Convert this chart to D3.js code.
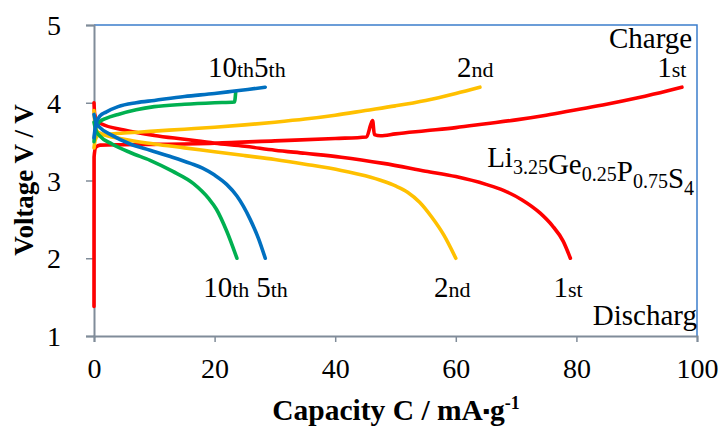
<!DOCTYPE html>
<html>
<head>
<meta charset="utf-8">
<script src="https://cdn.jsdelivr.net/npm/d3@7"></script>
<style>
  html, body { margin: 0; padding: 0; background: #fff; }
  svg { display: block; }
  text { font-family: "Liberation Serif", "Times New Roman", serif; fill: #000; }
</style>
</head>
<body>
<svg id="chart" width="720" height="429"></svg>
<script>
// Charge / discharge profiles of Li3.25Ge0.25P0.75S4, pairs of [capacity mA·g-1, voltage V]
const charge1 = [[0,1.38],[0.01,3.3],[0.3,3.43],[1,3.455],[5,3.46],[10,3.465],[20,3.48],[30,3.51],[40,3.54],[45.2,3.56],[45.9,3.72],[46.2,3.77],[46.5,3.59],[47.5,3.575],[50,3.6],[55,3.64],[60,3.68],[65,3.73],[70,3.78],[75,3.84],[80,3.91],[85,3.98],[90,4.06],[95,4.15],[97.5,4.2]];
const discharge1 = [[0,4.0],[0.1,3.86],[0.5,3.77],[1.2,3.73],[5,3.65],[10,3.58],[15,3.53],[20,3.48],[25,3.44],[30,3.39],[35,3.35],[41,3.3],[48,3.22],[55,3.12],[60,3.05],[65,2.95],[68,2.87],[71,2.75],[74,2.58],[76,2.42],[77.8,2.22],[79,2.0]];
const charge2 = [[0,3.42],[0.2,3.52],[0.7,3.58],[5,3.61],[10,3.635],[15,3.66],[20,3.685],[25,3.715],[30,3.75],[35,3.79],[40,3.84],[45,3.9],[50,3.96],[55,4.03],[60,4.12],[64,4.2]];
const discharge2 = [[0,3.9],[0.2,3.7],[0.7,3.62],[5,3.53],[10,3.47],[15,3.42],[20,3.37],[25,3.32],[30,3.27],[35,3.21],[41,3.13],[45,3.06],[48,2.99],[50,2.93],[52,2.85],[54,2.72],[56,2.53],[58,2.3],[60,2.0]];
const charge5 = [[0,3.55],[0.3,3.72],[1,3.83],[2,3.88],[4,3.95],[7,4.0],[10,4.03],[15,4.08],[20,4.12],[23.3,4.15],[25.5,4.17],[28.4,4.2]];
const discharge5 = [[0,3.85],[0.3,3.75],[1,3.68],[3,3.58],[6,3.47],[9.3,3.39],[13,3.3],[16,3.22],[18,3.16],[20,3.07],[22,2.95],[23.7,2.8],[25.9,2.5],[27.3,2.25],[28.4,2.0]];
const charge10 = [[0,3.5],[0.3,3.68],[1,3.76],[2,3.8],[4,3.85],[7,3.91],[10,3.95],[15,3.98],[20,4.0],[23.3,4.01],[23.5,4.14]];
const discharge10 = [[0,3.75],[0.3,3.65],[1,3.57],[3,3.47],[6,3.36],[9.3,3.26],[13,3.12],[16.5,2.96],[19,2.77],[20.3,2.63],[22,2.35],[23.7,2.0]];

const capTicks = [0, 20, 40, 60, 80, 100];
const voltTicks = [1, 2, 3, 4, 5];

const cycles = [
  { name: "1st",  charge: charge1,  discharge: discharge1,  color: "#ff0000" },
  { name: "2nd",  charge: charge2,  discharge: discharge2,  color: "#ffc000" },
  { name: "10th", charge: charge10, discharge: discharge10, color: "#00b050" },
  { name: "5th",  charge: charge5,  discharge: discharge5,  color: "#0070c0" }
];

const svg = d3.select("#chart");
const plotL = 94, plotR = 697, plotT = 25, plotB = 336;

const x = d3.scaleLinear().domain([0, 100]).range([plotL, plotR]);
const y = d3.scaleLinear().domain([1, 5]).range([plotB, plotT]);

const axisGrey = "#808c99";
const frameBlue = "#3b7dcc";

// plot-area frame: blue on top and right
svg.append("path")
  .attr("d", `M${plotL},${plotT}H${plotR}V${plotB}`)
  .attr("fill", "none").attr("stroke", frameBlue).attr("stroke-width", 1.5);

// y axis
const yAxis = svg.append("g").attr("transform", `translate(${plotL},0)`)
  .call(d3.axisLeft(y).tickValues(voltTicks).tickSize(8).tickPadding(25).tickFormat(d3.format("d")));
// x axis
const xAxis = svg.append("g").attr("transform", `translate(0,${plotB})`)
  .call(d3.axisBottom(x).tickValues(capTicks).tickSize(6).tickPadding(16).tickFormat(d3.format("d")));

[yAxis, xAxis].forEach(g => {
  g.select(".domain").attr("stroke", axisGrey).attr("stroke-width", 2);
  g.selectAll(".tick line").attr("stroke", axisGrey).attr("stroke-width", 1.5);
  g.selectAll(".tick text")
    .attr("font-family", "Liberation Serif, serif")
    .attr("font-size", 28).attr("fill", "#000");
});
yAxis.selectAll(".tick text").attr("dy", "0.34em");
xAxis.selectAll(".tick text").attr("dy", "0.71em");

// curves
const line = d3.line()
  .x(d => x(d[0])).y(d => y(d[1]))
  .curve(d3.curveMonotoneX);

const curves = svg.append("g");
cycles.forEach(c => {
  [c.charge, c.discharge].forEach(data => {
    curves.append("path")
      .attr("d", line(data))
      .attr("fill", "none")
      .attr("stroke", c.color)
      .attr("stroke-width", 3.6)
      .attr("stroke-linejoin", "round")
      .attr("stroke-linecap", "round");
  });
});

// cycle labels: big number + small ordinal suffix on the same baseline
function ordinal(sel, label) {
  const m = label.match(/^(\d+)(\D+)$/);
  sel.append("tspan").attr("font-size", 29).text(m[1]);
  sel.append("tspan").attr("font-size", 22).text(m[2]);
}
function cycleLabel(px, py, labels) {
  const t = svg.append("text").attr("x", px).attr("y", py);
  labels.forEach(l => ordinal(t, l));
}

// charge side
cycleLabel(x(18.9), y(4.33), ["10th", "5th"]);
cycleLabel(x(60.2), y(4.33), ["2nd"]);
cycleLabel(x(93.4), y(4.33), ["1st"]);
svg.append("text").attr("x", x(99.2)).attr("y", y(4.71))
  .attr("text-anchor", "end").attr("font-size", 29).text("Charge");

// discharge side
cycleLabel(x(18.1), y(1.5), ["10th"]);
cycleLabel(x(26.9), y(1.5), ["5th"]);
cycleLabel(x(56.4), y(1.5), ["2nd"]);
cycleLabel(x(76.2), y(1.5), ["1st"]);
svg.append("text").attr("x", plotR).attr("y", y(1.14))
  .attr("text-anchor", "end").attr("font-size", 29).text("Discharg");

// composition label with subscripts
const formula = [["Li", "3.25"], ["Ge", "0.25"], ["P", "0.75"], ["S", "4"]];
const ft = svg.append("text").attr("x", x(65.2)).attr("y", y(3.17)).attr("font-size", 29);
formula.forEach(([el, sub]) => {
  ft.append("tspan").attr("dy", 0).text(el);
  ft.append("tspan").attr("font-size", 20).attr("dy", 7).text(sub);
  ft.append("tspan").attr("dy", -7).text("");
});

// axis titles
svg.append("text")
  .attr("transform", `translate(33,180) rotate(-90)`)
  .attr("text-anchor", "middle").attr("font-weight", "bold").attr("font-size", 27)
  .text("Voltage V / V");

const xt = svg.append("text").attr("x", 396).attr("y", 420)
  .attr("text-anchor", "middle").attr("font-weight", "bold").attr("font-size", 29.5);
xt.append("tspan").text("Capacity C / mA");
xt.append("tspan").attr("font-size", 20).attr("dy", -2).text("▪");
xt.append("tspan").attr("dy", 2).text("g");
xt.append("tspan").attr("font-size", 18).attr("dy", -11).text("-1");
</script>
</body>
</html>
